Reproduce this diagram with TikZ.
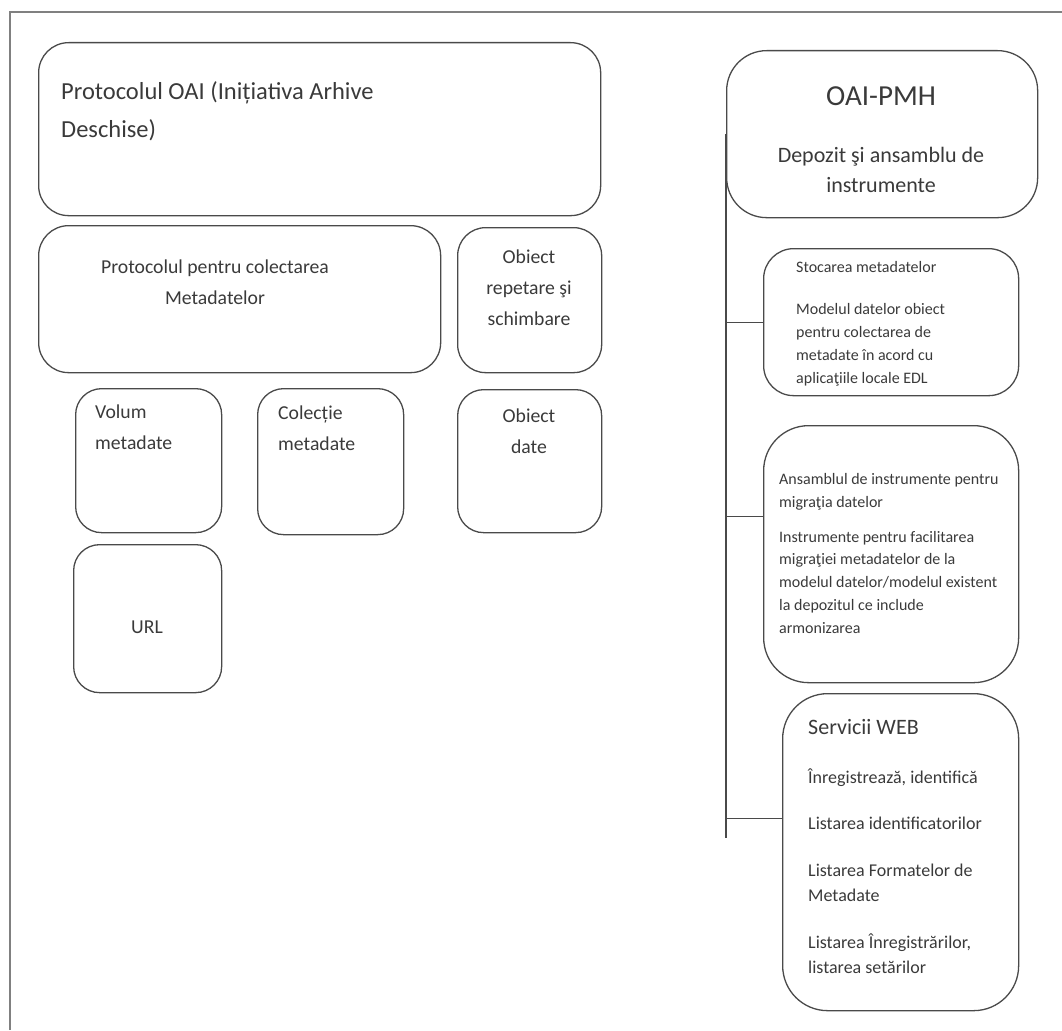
\documentclass[tikz,border=0pt]{standalone}
\usepackage{fontspec}
\setmainfont{Carlito}
\usetikzlibrary{calc}
\definecolor{linec}{HTML}{4A4A4A}
\definecolor{textc}{HTML}{3A3A3A}
\tikzset{
  box/.style={draw=linec, line width=1.3pt, rounded corners=#1, inner sep=0pt, anchor=north west},
  box/.default=28,
  txt/.style={text=textc, inner sep=0pt},
  conn/.style={draw=linec, line width=1.3pt},
}
\newcommand{\fs}[2]{\fontsize{#1}{#2}\selectfont}
\begin{document}
\begin{tikzpicture}[x=1pt,y=-1pt]
\useasboundingbox (0,0) rectangle (1062,1030);
% outer frame
\coordinate (fbl) at (10,1030);
\coordinate (ftl) at (10,12);
\coordinate (ftr) at (1062,12);
\draw[conn, line width=1.5pt, draw=gray] (fbl) -- (ftl) -- (ftr);

% left boxes (text anchors: base = baseline of last line)
\node[box=30, minimum width=562, minimum height=173] (A) at (38,42) {};
\node[txt, anchor=base west, align=left, font=\fs{24.5}{38}] (At) at (61,138) {Protocolul OAI (Inițiativa Arhive\\Deschise)};

\node[box=30, minimum width=402, minimum height=147] (B) at (38,225) {};
\node[txt, anchor=base, align=center, font=\fs{19.7}{31}] (Bt) at (215,304) {Protocolul pentru colectarea\\Metadatelor};

\node[box=28, minimum width=144, minimum height=145] (C) at (457,227) {};
\node[txt, anchor=base, align=center, font=\fs{19.7}{31}] (Ct) at (529,325) {Obiect\\repetare şi\\schimbare};

\node[box=26, minimum width=146, minimum height=144] (D) at (75,388) {};
\node[txt, anchor=base west, align=left, font=\fs{19.7}{31}] (Dt) at (95,449) {Volum\\metadate};

\node[box=26, minimum width=146, minimum height=146] (E) at (257,388) {};
\node[txt, anchor=base west, align=left, font=\fs{19.7}{31}] (Et) at (278,450) {Colecție\\metadate};

\node[box=26, minimum width=144, minimum height=143] (F) at (457,389) {};
\node[txt, anchor=base, align=center, font=\fs{19.7}{31}] (Ft) at (529,453) {Obiect\\date};

\node[box=26, minimum width=148, minimum height=148] (G) at (73,544) {};
\node[txt, anchor=center, font=\fs{19.7}{31}] (Gt) at (147,627) {URL};

% right column
\node[box=40, minimum width=311, minimum height=167] (H) at (726,50) {};
\node[txt, anchor=base, font=\fs{29}{32}] (Ht) at (881,106) {OAI-PMH};
\node[txt, anchor=base, align=center, font=\fs{22}{30}] (Hs) at (881,192) {Depozit şi ansamblu de\\instrumente};

\node[box=30, minimum width=255, minimum height=147] (I) at (763,248) {};
\node[txt, anchor=base west, align=left, font=\fs{16}{22.7}] (It) at (796,383) {Stocarea metadatelor\\[20pt]Modelul datelor obiect\\pentru colectarea de\\metadate în acord cu\\aplicaţiile locale EDL};

\node[box=45, minimum width=255, minimum height=257] (J) at (763,425) {};
\node[txt, anchor=base west, align=left, font=\fs{16}{22.7}] (Jt) at (779,633) {Ansamblul de instrumente pentru\\migraţia datelor\\[12pt]Instrumente pentru facilitarea\\migraţiei metadatelor de la\\modelul datelor/modelul existent\\la depozitul ce include\\armonizarea};

\node[box=45, minimum width=236, minimum height=317] (K) at (782,693) {};
\node[txt, anchor=base west, font=\fs{22}{26}] (Kt) at (808,734) {Servicii WEB};
\node[txt, anchor=base west, align=left, font=\fs{18}{25.5}] (Ks) at (808,973.5) {Înregistrează, identifică\\[21pt]Listarea identificatorilor\\[21pt]Listarea Formatelor de\\Metadate\\[21pt]Listarea Înregistrărilor,\\listarea setărilor};

% connectors
\coordinate (vend) at (726,838);
\draw[conn] (H.west) -- (vend);
\draw[conn] (I.west -| vend) -- (I.west);
\coordinate (jc) at ($(J.north west)!0.354!(J.south west)$);
\draw[conn] (jc -| vend) -- (jc);
\coordinate (kc) at ($(K.north west)!0.394!(K.south west)$);
\draw[conn] (kc -| vend) -- (kc);
\end{tikzpicture}
\end{document}
